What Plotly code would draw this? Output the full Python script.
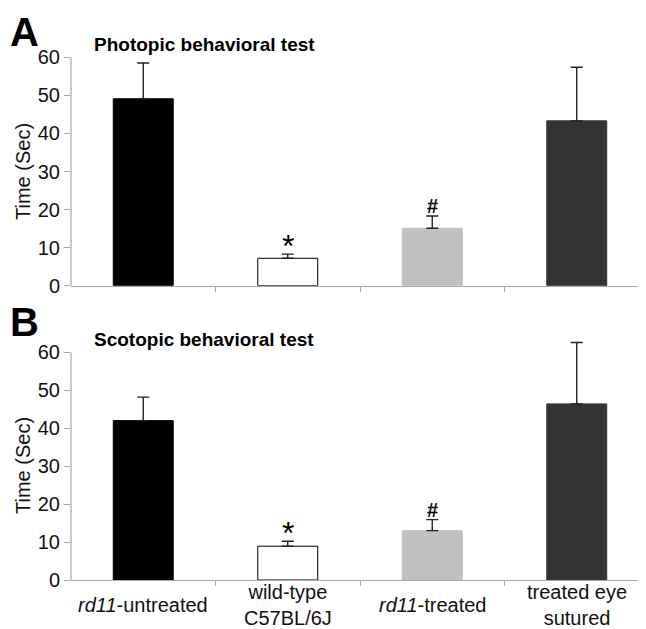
import plotly.graph_objects as go

categories = ["<i>rd11</i>-untreated", "wild-type<br>C57BL/6J", "<i>rd11</i>-treated", "treated eye<br>sutured"]
photopic_mean = [49.1, 7.2, 15.1, 43.3]
photopic_err = [9.4, 1.1, 3.2, 14.1]
scotopic_mean = [42.0, 8.9, 13.0, 46.4]
scotopic_err = [6.2, 1.3, 2.9, 16.2]
photopic_marks = ["", "*", "#", ""]
scotopic_marks = ["", "*", "#", ""]
bar_colors = ["#000000", "#ffffff", "#c0c0c0", "#333333"]
bar_edges = ["#000000", "#000000", "#c0c0c0", "#333333"]
y_ticks = [0, 10, 20, 30, 40, 50, 60]

# page body has an 8px default margin; the figure fills the rest of the window
OFF = 8
W, H = 646 - OFF, 629 - OFF
FONT = "Arial, Liberation Sans, sans-serif"
Y_TOP = 66  # extra headroom so error bars above 60 are not clipped
AXIS_MAX = max(y_ticks)


def xp(px):
    return (px - OFF) / W


def yp(py):
    return 1 - (py - OFF) / H


fig = go.Figure()
xs = list(range(len(categories)))

for means, errs, xa, ya in [(photopic_mean, photopic_err, "x", "y"),
                            (scotopic_mean, scotopic_err, "x2", "y2")]:
    fig.add_trace(go.Bar(
        x=xs, y=means, width=0.415, cliponaxis=False,
        marker=dict(color=bar_colors, line=dict(color=bar_edges, width=1)),
        error_y=dict(type="data", array=errs, arrayminus=[0] * len(errs),
                     symmetric=False, color="#222222", thickness=1.4, width=6),
        xaxis=xa, yaxis=ya, showlegend=False,
    ))


def y_domain(py0, py60):
    # py0: pixel of value 0, py60: pixel of value AXIS_MAX; extend to Y_TOP
    pix_per_unit = (py0 - py60) / AXIS_MAX
    ptop = py0 - Y_TOP * pix_per_unit
    return [yp(py0), yp(ptop)]


x_dom = [xp(71), 1.0]
yA = y_domain(285.7, 57.3)
yB = y_domain(580, 352.3)
x_right = -0.5 + (646 - 71) / 144.5

axis_x = dict(range=[-0.5, x_right], showgrid=False, zeroline=False, showline=True,
              linecolor="#a8a8a8", linewidth=1.2, ticks="outside", ticklen=5,
              tickcolor="#a8a8a8", tickvals=[0.5, 1.5, 2.5, 3.5], showticklabels=False,
              domain=x_dom, fixedrange=True, automargin=False)
axis_y = dict(range=[0, Y_TOP], tickvals=y_ticks, showgrid=False, zeroline=False,
              showline=False, ticks="outside",
              ticklen=6, tickcolor="#a8a8a8", automargin=False, fixedrange=True,
              tickfont=dict(family=FONT, size=20, color="#111111"))

fig.update_layout(
    width=W, height=H, margin=dict(l=0, r=0, t=0, b=0, autoexpand=False),
    paper_bgcolor="white", plot_bgcolor="white",
    xaxis=dict(axis_x, anchor="y"),
    xaxis2=dict(axis_x, anchor="y2"),
    yaxis=dict(axis_y, domain=yA, anchor="x"),
    yaxis2=dict(axis_y, domain=yB, anchor="x2"),
)

# vertical axis lines from 0 to the top tick
for xr, yr in [("x", "y"), ("x2", "y2")]:
    fig.add_shape(type="line", xref=xr + " domain", yref=yr, x0=0, x1=0,
                  y0=0, y1=AXIS_MAX, line=dict(color="#a8a8a8", width=1.2), layer="above")

ann = []
# panel letters and titles
ann.append(dict(text="<b>A</b>", x=xp(8), y=1, xref="paper", yref="paper",
                xanchor="left", yanchor="top", showarrow=False,
                font=dict(family=FONT, size=40, color="black")))
ann.append(dict(text="<b>B</b>", x=xp(8), y=yp(298), xref="paper", yref="paper",
                xanchor="left", yanchor="top", showarrow=False,
                font=dict(family=FONT, size=40, color="black")))
ann.append(dict(text="<b>Photopic behavioral test</b>", x=xp(92), y=yp(44),
                xref="paper", yref="paper", xanchor="left", yanchor="middle",
                showarrow=False, font=dict(family=FONT, size=19, color="black")))
ann.append(dict(text="<b>Scotopic behavioral test</b>", x=xp(92), y=yp(339),
                xref="paper", yref="paper", xanchor="left", yanchor="middle",
                showarrow=False, font=dict(family=FONT, size=19, color="black")))
# y titles
for yc in [yp(172), yp(466)]:
    ann.append(dict(text="Time (Sec)", x=xp(23), y=yc, xref="paper", yref="paper",
                    xanchor="center", yanchor="middle", textangle=-90, showarrow=False,
                    font=dict(family=FONT, size=20, color="#111111")))
# significance marks
for means, errs, marks, xr, yr in [(photopic_mean, photopic_err, photopic_marks, "x", "y"),
                                   (scotopic_mean, scotopic_err, scotopic_marks, "x2", "y2")]:
    for i, m in enumerate(marks):
        if not m:
            continue
        if m == "*":
            ann.append(dict(text=m, x=i, y=means[i] + errs[i], xref=xr, yref=yr,
                            xanchor="center", yanchor="bottom", yshift=-12, showarrow=False,
                            font=dict(family=FONT, size=32, color="black")))
        else:
            ann.append(dict(text="<b>" + m + "</b>", x=i, y=means[i] + errs[i], xref=xr, yref=yr,
                            xanchor="center", yanchor="bottom", yshift=-3, showarrow=False,
                            font=dict(family=FONT, size=20, color="black")))
# category labels
for i, c in enumerate(categories):
    ann.append(dict(text=c, x=i, y=yp(605), xref="x2", yref="paper",
                    xanchor="center", yanchor="middle", showarrow=False,
                    font=dict(family=FONT, size=20, color="#111111")))

fig.update_layout(annotations=ann)
fig.write_html("out.html")
